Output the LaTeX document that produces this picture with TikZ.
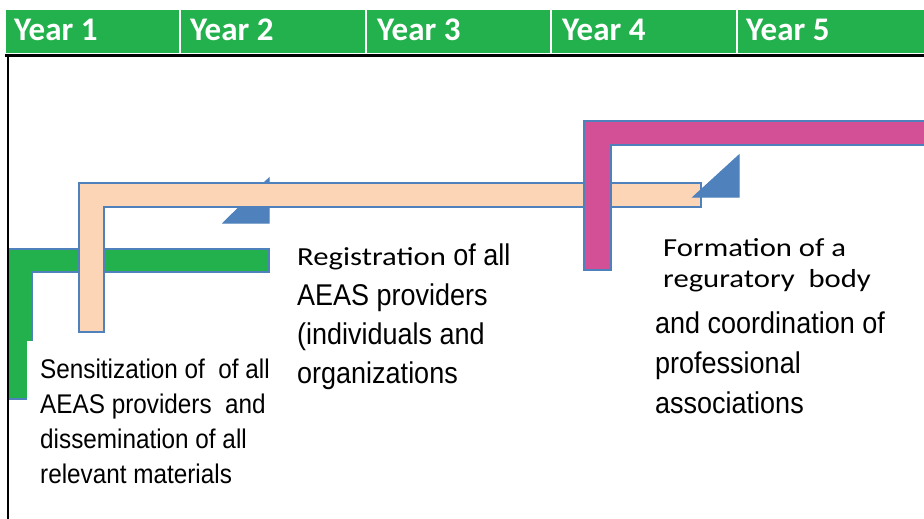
\documentclass[tikz,border=0pt]{standalone}
\usepackage{fontspec}
\setmainfont{Liberation Sans}
\newfontfamily\arialn[FakeStretch=0.9]{Liberation Sans}
\newfontfamily\calib[FakeStretch=1.18]{Carlito}
\newfontfamily\calibhead{Carlito}
\definecolor{bargreen}{RGB}{34,177,76}
\definecolor{barpeach}{RGB}{251,213,181}
\definecolor{barpink}{RGB}{211,80,151}
\definecolor{edgeblue}{RGB}{79,129,189}
\tikzset{
	yearlbl/.style = {anchor = base west, inner sep = 0, text = white, font = \calibhead\bfseries\fontsize{33}{33}\selectfont},
	txt/.style = {anchor = base west, inner sep = 0, font = \arialn\fontsize{#1}{#1}\selectfont},
	calibtxt/.style = {anchor = base west, inner sep = 0, font = \calib\fontsize{26}{26}\selectfont},
	lshape/.style = {draw = edgeblue, line width = 2.5pt, line join = miter},
	headtri/.style = {fill = edgeblue, draw = edgeblue, line width = 1pt}
}
\begin{document}
\begin{tikzpicture}[x = 1pt, y = -1pt]
					\useasboundingbox (0,0) rectangle (924,519);
					\fill [bargreen](6,10) rectangle (924,53);
					\foreach \x in {180,366,551,737}{
							\draw [white, line width = 1.5pt](\x,10)--(\x,53);
						}
					\foreach \x/\t [count = \i] in {14/1,190/2,377/3,562/4,746/5}{
							\node (y\i)[yearlbl] at(\x, 41) {Year \t};
						}

					\draw [lshape, fill = bargreen](9,249)--(269,249)--(269,272)--(32,272)--(32,399)--(9,399)--cycle;
					\draw [headtri](223,223)--(269,223)--(269,178)--cycle;
					\draw [lshape, fill = barpeach](79,183)--(701,183)--(701,207)--(104,207)--(104,332)--(79,332)--cycle;
					\draw [headtri](693,197)--(739,197)--(739,155)--cycle;
					\draw [lshape, fill = barpink](584,121)--(930,121)--(930,145)--(611,145)--(611,270)--(584,270)--cycle;

					\draw [line width = 3pt](5,56)--(924,56);
					\draw [line width = 2.5pt](8,56)--(8,519);
					\fill [white](27,341) rectangle (285,505);

					\foreach \t [count = \i] in {Sensitization of\ \ of all, AEAS providers\ \ and, dissemination of all, relevant materials}{
							\node (s\i)[txt = 27] at(40, 378+35*\i-35) {\t};
						}

					\node (r0)[txt = 30] at(297, 265) {{\calib\fontsize{26}{26}\selectfont Registration} of all};
					\foreach \t [count = \i] in {AEAS providers, {(individuals and}, organizations}{
							\node (r\i)[txt = 30] at(297, 305+39*\i-39) {\t};
						}

					\node (f1)[calibtxt] at(663, 256) {Formation of a};
					\node (f2)[calibtxt] at(663, 287) {reguratory\ \ body};
					\foreach \t [count = \i] in {and coordination of, professional, associations}{
							\node (c\i)[txt = 30] at(655, 333+40*\i-40) {\t};
						}
				\end{tikzpicture}
\end{document}
